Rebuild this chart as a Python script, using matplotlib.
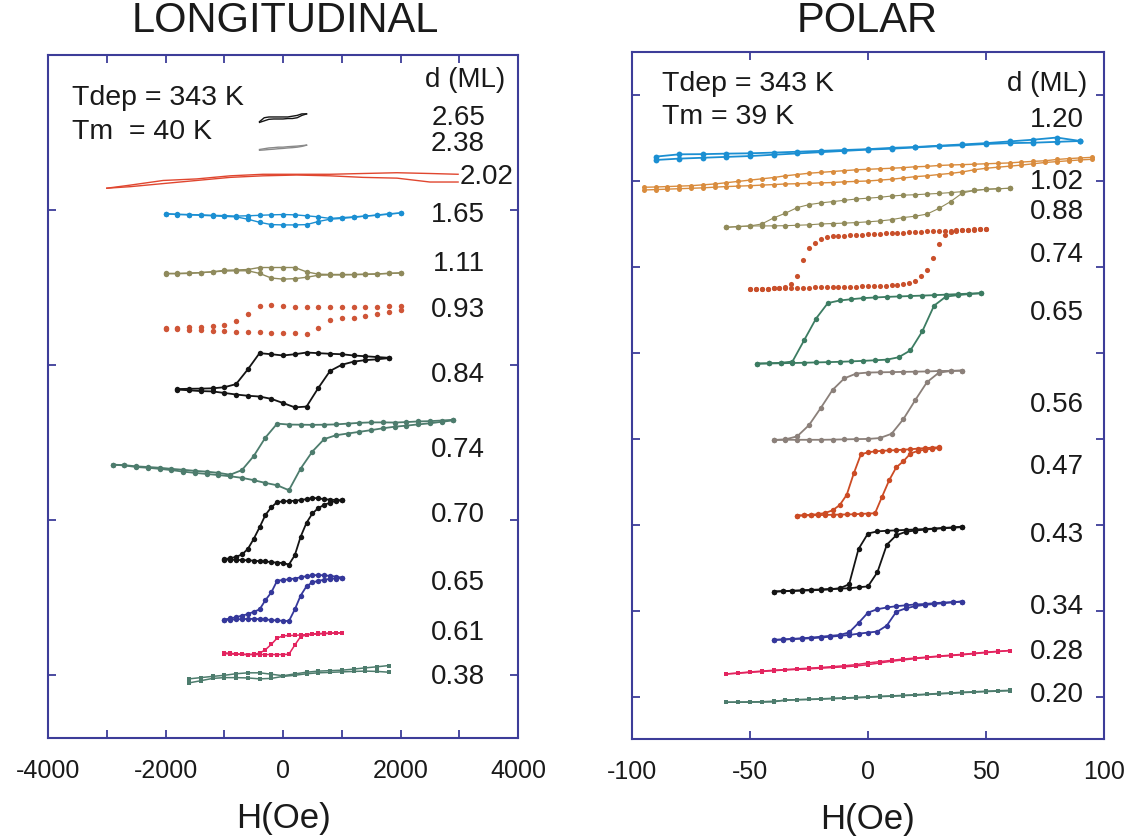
import matplotlib.pyplot as plt
from matplotlib.ticker import FixedLocator

plt.rcParams['font.family'] = ['Liberation Sans', 'DejaVu Sans']
plt.rcParams['axes.unicode_minus'] = False

# ---------------- longitudinal Kerr loops (field in Oe, signal offset per film) ----------------
lon_H_a = [-400, -320, -240, -160, -80, 0, 80, 160, 240, 320, 400]
lon_265_up = [3.57, 3.595, 3.60, 3.60, 3.60, 3.60, 3.60, 3.605, 3.61, 3.62, 3.62]
lon_265_dn = [3.565, 3.575, 3.585, 3.587, 3.587, 3.587, 3.59, 3.59, 3.595, 3.61, 3.62]
lon_238_up = [3.39, 3.395, 3.40, 3.402, 3.405, 3.405, 3.408, 3.41, 3.412, 3.415, 3.418]
lon_238_dn = [3.385, 3.387, 3.39, 3.392, 3.395, 3.397, 3.40, 3.402, 3.405, 3.41, 3.418]

lon_H_202 = [-3000, -2600, -2040, -1470, -900, -340, 230, 800, 1360, 1940, 2500, 2980]
lon_202_up = [3.14, 3.16, 3.19, 3.20, 3.22, 3.23, 3.23, 3.23, 3.235, 3.24, 3.235, 3.23]
lon_202_dn = [3.14, 3.15, 3.17, 3.19, 3.21, 3.22, 3.225, 3.22, 3.21, 3.205, 3.18, 3.18]

lon_H_b = [-2000, -1800, -1600, -1400, -1200, -1000, -800, -600, -400, -200, 0,
           200, 400, 600, 800, 1000, 1200, 1400, 1600, 1800, 2000]
lon_165_up = [2.975, 2.972, 2.97, 2.968, 2.965, 2.963, 2.96, 2.962, 2.965, 2.968, 2.97,
              2.968, 2.962, 2.955, 2.945, 2.95, 2.955, 2.96, 2.965, 2.972, 2.98]
lon_165_dn = [2.975, 2.97, 2.968, 2.965, 2.962, 2.958, 2.955, 2.94, 2.92, 2.905, 2.903,
              2.903, 2.905, 2.925, 2.94, 2.945, 2.952, 2.96, 2.967, 2.975, 2.98]
lon_111_up = [2.59, 2.59, 2.592, 2.595, 2.60, 2.61, 2.612, 2.615, 2.628, 2.628, 2.628,
              2.628, 2.60, 2.585, 2.583, 2.583, 2.583, 2.585, 2.587, 2.59, 2.593]
lon_111_dn = [2.588, 2.588, 2.59, 2.595, 2.60, 2.605, 2.607, 2.607, 2.59, 2.56, 2.553,
              2.556, 2.565, 2.578, 2.58, 2.58, 2.582, 2.583, 2.586, 2.59, 2.593]
lon_093_up = [2.237, 2.24, 2.243, 2.245, 2.25, 2.258, 2.28, 2.33, 2.38, 2.385, 2.38,
              2.376, 2.376, 2.376, 2.375, 2.376, 2.376, 2.376, 2.376, 2.378, 2.378]
lon_093_dn = [2.232, 2.228, 2.225, 2.222, 2.219, 2.215, 2.213, 2.21, 2.209, 2.207, 2.205,
              2.202, 2.20, 2.24, 2.29, 2.30, 2.305, 2.315, 2.33, 2.342, 2.352]

lon_H_c = [-1800, -1600, -1400, -1200, -1000, -800, -600, -400, -200, 0,
           200, 400, 600, 800, 1000, 1200, 1400, 1600, 1800]
lon_084_up = [1.843, 1.845, 1.846, 1.848, 1.855, 1.875, 1.97, 2.075, 2.068, 2.06,
              2.068, 2.079, 2.075, 2.071, 2.068, 2.06, 2.055, 2.05, 2.045]
lon_084_dn = [1.84, 1.835, 1.83, 1.828, 1.818, 1.808, 1.80, 1.795, 1.78, 1.753,
              1.725, 1.73, 1.85, 1.96, 2.0, 2.02, 2.03, 2.035, 2.043]

lon_H_d = [-2900, -2700, -2500, -2300, -2100, -1900, -1700, -1500, -1300, -1100,
           -900, -700, -500, -300, -100, 100, 300, 500, 700, 900,
           1100, 1300, 1500, 1700, 1900, 2100, 2300, 2500, 2700, 2900]
lon_074_up = [1.355, 1.352, 1.344, 1.34, 1.335, 1.328, 1.322, 1.315, 1.31, 1.302,
              1.29, 1.32, 1.41, 1.53, 1.62, 1.614, 1.613, 1.612, 1.613, 1.615,
              1.62, 1.625, 1.628, 1.628, 1.627, 1.63, 1.634, 1.636, 1.64, 1.645]
lon_074_dn = [1.355, 1.35, 1.34, 1.335, 1.328, 1.32, 1.31, 1.302, 1.295, 1.288,
              1.28, 1.27, 1.255, 1.237, 1.222, 1.19, 1.33, 1.44, 1.52, 1.545,
              1.556, 1.567, 1.578, 1.59, 1.60, 1.607, 1.615, 1.622, 1.632, 1.641]

lon_H_e = [-1000, -900, -800, -700, -600, -500, -400, -300, -200, -100, 0,
           100, 200, 300, 400, 500, 600, 700, 800, 900, 1000]
lon_070_up = [0.746, 0.75, 0.76, 0.775, 0.81, 0.875, 0.95, 1.03, 1.08, 1.113, 1.118,
              1.12, 1.122, 1.127, 1.132, 1.14, 1.138, 1.132, 1.129, 1.127, 1.125]
lon_070_dn = [0.742, 0.741, 0.74, 0.739, 0.738, 0.735, 0.732, 0.73, 0.726, 0.722, 0.72,
              0.71, 0.77, 0.89, 0.98, 1.04, 1.075, 1.095, 1.11, 1.12, 1.125]
lon_065_up = [0.355, 0.362, 0.37, 0.38, 0.39, 0.405, 0.42, 0.48, 0.53, 0.606, 0.61,
              0.615, 0.62, 0.628, 0.635, 0.64, 0.643, 0.64, 0.637, 0.632, 0.626]
lon_065_dn = [0.352, 0.354, 0.356, 0.358, 0.359, 0.359, 0.358, 0.356, 0.352, 0.349, 0.347,
              0.345, 0.42, 0.51, 0.57, 0.595, 0.605, 0.612, 0.618, 0.62, 0.622]
lon_061_up = [0.14, 0.137, 0.134, 0.131, 0.129, 0.131, 0.138, 0.16, 0.195, 0.235, 0.25,
              0.252, 0.253, 0.255, 0.258, 0.262, 0.265, 0.266, 0.267, 0.268, 0.269]
lon_061_dn = [0.135, 0.133, 0.131, 0.13, 0.129, 0.129, 0.129, 0.129, 0.129, 0.129, 0.129,
              0.131, 0.19, 0.245, 0.255, 0.26, 0.262, 0.264, 0.266, 0.268, 0.269]

lon_H_f = [-1600, -1400, -1200, -1000, -800, -600, -400, -200, 0,
           200, 400, 600, 800, 1000, 1200, 1400, 1600, 1800]
lon_038_up = [-0.028, -0.02, -0.012, -0.005, 0.005, 0.011, 0.011, 0.002, -0.008,
              0.004, 0.015, 0.022, 0.025, 0.028, 0.035, 0.043, 0.05, 0.058]
lon_038_dn = [-0.054, -0.04, -0.025, -0.02, -0.02, -0.022, -0.028, -0.025, -0.012,
              -0.005, 0.005, 0.011, 0.014, 0.017, 0.02, 0.022, 0.02, 0.015]

# ---------------- polar Kerr loops ----------------
pol_H_a = [-90, -80, -70, -60, -50, -40, -30, -20, -10, 0, 10, 20, 30, 40, 50, 60, 70, 80, 90]
pol_120_up = [6.283, 6.31, 6.312, 6.318, 6.322, 6.33, 6.34, 6.35, 6.36, 6.37,
              6.385, 6.395, 6.41, 6.425, 6.44, 6.46, 6.48, 6.505, 6.465]
pol_120_dn = [6.244, 6.26, 6.27, 6.28, 6.29, 6.305, 6.32, 6.335, 6.35, 6.365,
              6.375, 6.39, 6.405, 6.415, 6.43, 6.44, 6.445, 6.455, 6.465]

pol_H_b = [-95, -90, -85, -80, -75, -70, -65, -60, -55, -50, -45, -40, -35, -30, -25, -20,
           -15, -10, -5, 0, 5, 10, 15, 20, 25, 30, 35, 40, 45, 50, 55, 60, 65, 70, 75, 80,
           85, 90, 95]
pol_102_up = [5.927, 5.93, 5.935, 5.94, 5.945, 5.955, 5.965, 5.98, 5.995, 6.01, 6.025, 6.04,
              6.06, 6.075, 6.09, 6.10, 6.11, 6.12, 6.13, 6.136, 6.142, 6.148, 6.155, 6.165,
              6.17, 6.18, 6.186, 6.19, 6.195, 6.20, 6.205, 6.21, 6.22, 6.228, 6.235, 6.25,
              6.26, 6.268, 6.275]
pol_102_dn = [5.895, 5.90, 5.905, 5.91, 5.915, 5.92, 5.928, 5.935, 5.94, 5.945, 5.952, 5.958,
              5.965, 5.968, 5.972, 5.978, 5.982, 5.99, 5.995, 6.0, 6.01, 6.02, 6.035, 6.05,
              6.06, 6.075, 6.088, 6.105, 6.13, 6.148, 6.16, 6.172, 6.185, 6.20, 6.215, 6.225,
              6.235, 6.245, 6.252]

pol_H_c = [-60, -55, -50, -45, -40, -35, -30, -25, -20, -15, -10, -5, 0,
           5, 10, 15, 20, 25, 30, 35, 40, 45, 50, 55, 60]
pol_088_up = [5.461, 5.47, 5.477, 5.50, 5.57, 5.625, 5.69, 5.725, 5.745, 5.76, 5.775, 5.79,
              5.80, 5.81, 5.825, 5.835, 5.84, 5.848, 5.855, 5.865, 5.876, 5.89, 5.903, 5.91,
              5.915]
pol_088_dn = [5.461, 5.47, 5.477, 5.477, 5.478, 5.48, 5.485, 5.49, 5.50, 5.505, 5.51, 5.516,
              5.525, 5.535, 5.55, 5.575, 5.59, 5.615, 5.68, 5.76, 5.86, 5.89, 5.903, 5.91,
              5.915]
pol_028_up = [0.267, 0.278, 0.29, 0.30, 0.31, 0.318, 0.326, 0.334, 0.342, 0.352, 0.362, 0.375,
              0.395, 0.41, 0.425, 0.44, 0.452, 0.463, 0.475, 0.485, 0.495, 0.507, 0.52, 0.53,
              0.539]
pol_028_dn = [0.267, 0.275, 0.285, 0.295, 0.305, 0.313, 0.32, 0.327, 0.334, 0.342, 0.35, 0.36,
              0.375, 0.395, 0.415, 0.43, 0.445, 0.458, 0.47, 0.48, 0.49, 0.503, 0.515, 0.527,
              0.539]
pol_020_up = [-0.062, -0.06, -0.058, -0.056, -0.05, -0.04, -0.032, -0.028, -0.022, -0.016,
              -0.012, -0.006, 0.0, 0.006, 0.012, 0.018, 0.025, 0.032, 0.04, 0.046, 0.054,
              0.06, 0.066, 0.072, 0.076]
pol_020_dn = [-0.062, -0.062, -0.061, -0.06, -0.058, -0.036, -0.033, -0.03, -0.026, -0.02,
              -0.016, -0.01, -0.005, 0.003, 0.008, 0.015, 0.02, 0.028, 0.035, 0.042, 0.05,
              0.055, 0.062, 0.067, 0.072]

pol_H_d = [-50, -47.5, -45, -42.5, -40, -37.5, -35, -32.5, -30, -27.5, -25, -22.5, -20,
           -17.5, -15, -12.5, -10, -7.5, -5, -2.5, 0, 2.5, 5, 7.5, 10, 12.5, 15, 17.5,
           20, 22.5, 25, 27.5, 30, 32.5, 35, 37.5, 40, 42.5, 45, 47.5, 50]
pol_074_up = [4.74, 4.742, 4.745, 4.748, 4.75, 4.752, 4.765, 4.80, 4.90, 5.08, 5.217, 5.28,
              5.32, 5.345, 5.355, 5.36, 5.365, 5.37, 5.372, 5.375, 5.378, 5.382, 5.386, 5.391,
              5.394, 5.397, 5.40, 5.404, 5.408, 5.411, 5.413, 5.416, 5.418, 5.42, 5.422,
              5.425, 5.43, 5.434, 5.438, 5.442, 5.446]
pol_074_dn = [4.74, 4.742, 4.745, 4.748, 4.75, 4.751, 4.752, 4.754, 4.757, 4.758, 4.76,
              4.762, 4.764, 4.765, 4.766, 4.768, 4.77, 4.771, 4.772, 4.774, 4.775, 4.777,
              4.78, 4.783, 4.785, 4.79, 4.80, 4.815, 4.84, 4.89, 4.97, 5.10, 5.27, 5.37,
              5.41, 5.42, 5.425, 5.43, 5.435, 5.44, 5.446]

pol_H_e = [-47, -42, -37, -32, -27, -22, -17, -12, -7, -2, 3, 8, 13, 18, 23, 28, 33, 38, 43, 48]
pol_065_up = [3.876, 3.88, 3.885, 3.90, 4.15, 4.40, 4.58, 4.61, 4.625, 4.638,
              4.645, 4.652, 4.657, 4.662, 4.667, 4.672, 4.678, 4.684, 4.69, 4.695]
pol_065_dn = [3.876, 3.878, 3.88, 3.883, 3.886, 3.89, 3.893, 3.897, 3.902, 3.908,
              3.915, 3.922, 3.95, 4.03, 4.25, 4.55, 4.655, 4.672, 4.685, 4.695]

pol_H_f = [-40, -35, -30, -25, -20, -15, -10, -5, 0, 5, 10, 15, 20, 25, 30, 35, 40]
pol_056_up = [2.988, 2.995, 3.03, 3.16, 3.36, 3.57, 3.705, 3.76, 3.772,
              3.775, 3.777, 3.78, 3.782, 3.785, 3.79, 3.792, 3.795]
pol_056_dn = [2.988, 2.99, 2.99, 2.99, 2.99, 2.992, 2.995, 2.998, 3.0,
              3.01, 3.06, 3.23, 3.45, 3.66, 3.77, 3.79, 3.795]

pol_H_g = [-30, -27, -24, -21, -18, -15, -12, -9, -6, -3, 0, 3, 6, 9, 12, 15, 18, 21, 24, 27, 30]
pol_047_up = [2.109, 2.112, 2.118, 2.126, 2.14, 2.17, 2.23, 2.35, 2.6, 2.82, 2.845,
              2.855, 2.862, 2.866, 2.87, 2.875, 2.88, 2.887, 2.893, 2.898, 2.903]
pol_047_dn = [2.109, 2.11, 2.112, 2.114, 2.116, 2.118, 2.12, 2.122, 2.124, 2.128, 2.132,
              2.136, 2.33, 2.52, 2.67, 2.74, 2.83, 2.86, 2.875, 2.885, 2.893]

pol_H_h = [-40, -36, -32, -28, -24, -20, -16, -12, -8, -4, 0, 4, 8, 12, 16, 20, 24, 28, 32, 36, 40]
pol_043_up = [1.225, 1.228, 1.232, 1.236, 1.24, 1.244, 1.25, 1.262, 1.31, 1.72, 1.90,
              1.925, 1.932, 1.937, 1.942, 1.947, 1.952, 1.957, 1.962, 1.967, 1.975]
pol_043_dn = [1.225, 1.23, 1.235, 1.24, 1.245, 1.25, 1.255, 1.26, 1.263, 1.275, 1.285,
              1.45, 1.77, 1.88, 1.92, 1.935, 1.945, 1.955, 1.965, 1.972, 1.98]
pol_034_up = [0.663, 0.668, 0.675, 0.682, 0.69, 0.70, 0.71, 0.72, 0.75, 0.86, 0.98,
              1.02, 1.04, 1.055, 1.065, 1.075, 1.08, 1.09, 1.097, 1.103, 1.109]
pol_034_dn = [0.663, 0.667, 0.672, 0.677, 0.682, 0.69, 0.70, 0.71, 0.72, 0.735, 0.748,
              0.76, 0.83, 0.99, 1.03, 1.055, 1.07, 1.08, 1.09, 1.10, 1.109]

# thickness labels (ML)
lon_d = ['2.65', '2.38', '2.02', '1.65', '1.11', '0.93', '0.84', '0.74', '0.70', '0.65', '0.61', '0.38']
pol_d = ['1.20', '1.02', '0.88', '0.74', '0.65', '0.56', '0.47', '0.43', '0.34', '0.28', '0.20']

# label heights in axis units
lon_label_y = [3.594, 3.426, 3.213, 2.968, 2.652, 2.355, 1.935, 1.452, 1.032, 0.594, 0.271, -0.013]
pol_label_y = [6.709, 5.988, 5.640, 5.140, 4.465, 3.395, 2.674, 1.884, 1.047, 0.523, 0.023]

BLACK = '#141414'
BLUE = '#1b8fd2'
OLIVE = '#8f8a5c'
RUST = '#cf5537'
TEAL = '#4d7c6d'
NAVY = '#35389b'
PINK = '#e3245f'
AXCOL = '#3d3d99'
TXT = '#1a1a1a'

# (H, upper branch, lower branch, colour, marker, marker size, line width)
lon_loops = [
    (lon_H_a, lon_265_up, lon_265_dn, BLACK, None, 0, 1.0),
    (lon_H_a, lon_238_up, lon_238_dn, '#8a8a8a', None, 0, 1.0),
    (lon_H_202, lon_202_up, lon_202_dn, '#e0462f', None, 0, 1.0),
    (lon_H_b, lon_165_up, lon_165_dn, BLUE, 'o', 3.9, 1.0),
    (lon_H_b, lon_111_up, lon_111_dn, OLIVE, 'o', 3.9, 1.0),
    (lon_H_b, lon_093_up, lon_093_dn, RUST, 'o', 3.9, 0.0),
    (lon_H_c, lon_084_up, lon_084_dn, BLACK, 'o', 3.9, 1.3),
    (lon_H_d, lon_074_up, lon_074_dn, TEAL, 'o', 3.9, 1.3),
    (lon_H_e, lon_070_up, lon_070_dn, BLACK, 'o', 3.9, 1.3),
    (lon_H_e, lon_065_up, lon_065_dn, NAVY, 'o', 3.9, 1.3),
    (lon_H_e, lon_061_up, lon_061_dn, PINK, 's', 2.4, 1.1),
    (lon_H_f, lon_038_up, lon_038_dn, TEAL, 's', 2.4, 1.1),
]
pol_loops = [
    (pol_H_a, pol_120_up, pol_120_dn, BLUE, 'o', 4.2, 1.3),
    (pol_H_b, pol_102_up, pol_102_dn, '#d98c3e', 'o', 3.6, 1.0),
    (pol_H_c, pol_088_up, pol_088_dn, '#918b5a', 'o', 3.9, 0.8),
    (pol_H_d, pol_074_up, pol_074_dn, '#c9502b', 'o', 3.7, 0.0),
    (pol_H_e, pol_065_up, pol_065_dn, '#3c7c62', 'o', 3.9, 1.3),
    (pol_H_f, pol_056_up, pol_056_dn, '#8b807a', 'o', 3.9, 1.3),
    (pol_H_g, pol_047_up, pol_047_dn, '#cc4b24', 'o', 3.9, 1.3),
    (pol_H_h, pol_043_up, pol_043_dn, BLACK, 'o', 3.9, 1.3),
    (pol_H_h, pol_034_up, pol_034_dn, NAVY, 'o', 3.9, 1.3),
    (pol_H_c, pol_028_up, pol_028_dn, PINK, 's', 2.4, 1.1),
    (pol_H_c, pol_020_up, pol_020_dn, TEAL, 's', 2.4, 1.1),
]


def draw_loops(ax, loops):
    for H, up, dn, col, mk, ms, lw in loops:
        for branch in (up, dn):
            ax.plot(H, branch, color=col, lw=lw,
                    linestyle='-' if lw > 0 else 'none',
                    marker=mk, markersize=ms, markeredgewidth=0)


def style_axes(ax):
    for s in ax.spines.values():
        s.set_color(AXCOL)
        s.set_linewidth(1.5)
    ax.tick_params(which='both', direction='in', length=6, width=1.3, color=AXCOL,
                   top=True, right=True, labelleft=False, labelsize=18, pad=15,
                   labelcolor=TXT)
    ax.set_xlabel('H(Oe)', fontsize=25, labelpad=14, color=TXT)


fig = plt.figure(figsize=(11.36, 8.4), dpi=100)
ax1 = fig.add_axes([0.0423, 0.1214, 0.4137, 0.8131])
ax2 = fig.add_axes([0.5563, 0.1202, 0.4155, 0.8179])

draw_loops(ax1, lon_loops)
ax1.set_xlim(-4000, 4000)
ax1.set_ylim(-0.41, 4.0)
ax1.set_xticks([-4000, -2000, 0, 2000, 4000])
ax1.xaxis.set_minor_locator(FixedLocator([-3000, -1000, 1000, 3000]))
ax1.set_yticks([0, 1, 2, 3])
style_axes(ax1)
for lab, y in zip(lon_d, lon_label_y):
    x = 3915 if lab == '2.02' else 3440
    ax1.text(x, y, lab, fontsize=20, ha='right', va='center', color=TXT)
ax1.text(3780, 3.839, 'd (ML)', fontsize=20, ha='right', va='center', color=TXT)
ax1.text(-3590, 3.723, 'Tdep = 343 K', fontsize=20.5, ha='left', va='center', color=TXT)
ax1.text(-3590, 3.503, 'Tm  = 40 K', fontsize=20.5, ha='left', va='center', color=TXT)

draw_loops(ax2, pol_loops)
ax2.set_xlim(-100, 100)
ax2.set_ylim(-0.49, 7.5)
ax2.set_xticks([-100, -50, 0, 50, 100])
ax2.set_yticks([0, 1, 2, 3, 4, 5, 6, 7])
style_axes(ax2)
for lab, y in zip(pol_d, pol_label_y):
    ax2.text(91.5, y, lab, fontsize=20, ha='right', va='center', color=TXT)
ax2.text(92.8, 7.128, 'd (ML)', fontsize=20, ha='right', va='center', color=TXT)
ax2.text(-87.3, 7.128, 'Tdep = 343 K', fontsize=20.5, ha='left', va='center', color=TXT)
ax2.text(-87.3, 6.744, 'Tm = 39 K', fontsize=20.5, ha='left', va='center', color=TXT)

fig.text(285 / 1136, 1 - 21 / 840, 'LONGITUDINAL', fontsize=30, ha='center', va='center',
         color=TXT)
fig.text(867 / 1136, 1 - 21 / 840, 'POLAR', fontsize=30, ha='center', va='center',
         color=TXT)

fig.savefig('out.png', dpi=100, facecolor='white')
